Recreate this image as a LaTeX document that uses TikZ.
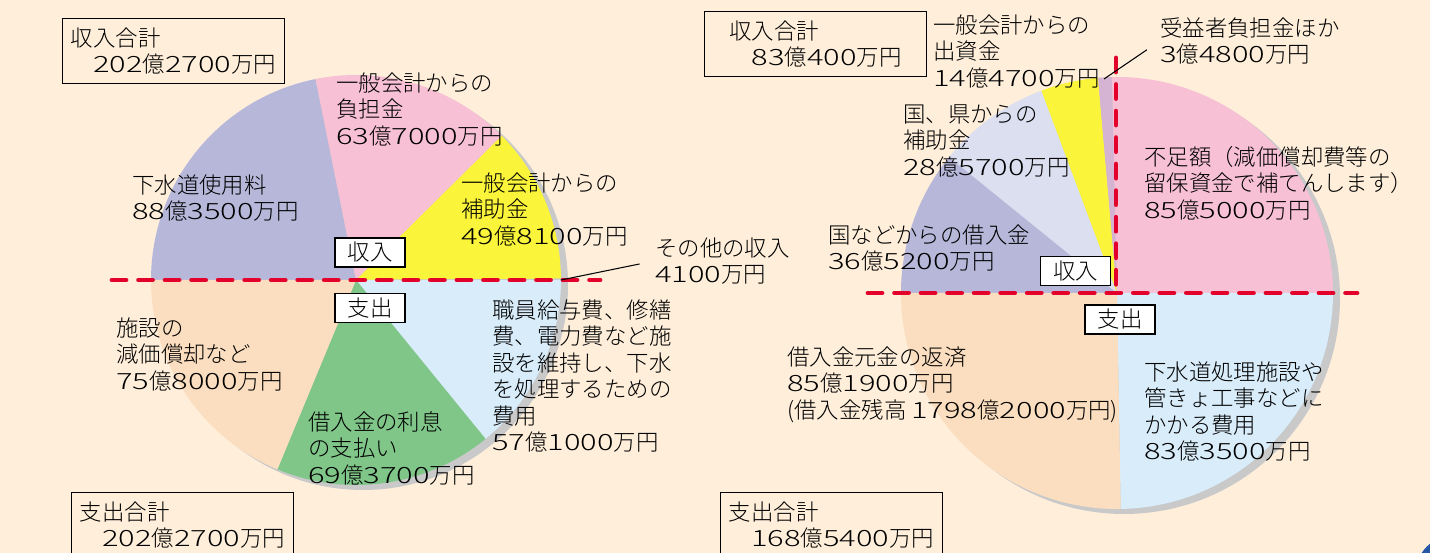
\documentclass[tikz,border=0pt]{standalone}
\usepackage{fontspec}
\IfFontExistsTF{Noto Sans CJK JP Light}{%
	\setmainfont{Noto Sans CJK JP Light}
	\newfontfamily\widedigits{Noto Sans CJK JP Light}[FakeStretch=1.38]
}{%
	\setmainfont{Noto Sans CJK JP}
	\newfontfamily\widedigits{Noto Sans CJK JP}[FakeStretch=1.3]
}
\newcommand{\dg}[1]{{\widedigits #1}}
\usepackage{tikz}
\usetikzlibrary{calc}

\definecolor{bgpeach}{HTML}{FEEEDA}
\definecolor{sewerpurple}{HTML}{B7B7DA}
\definecolor{burdenpink}{HTML}{F7C0D4}
\definecolor{subsidyyellow}{HTML}{FAF43B}
\definecolor{othergray}{HTML}{C8C8D0}
\definecolor{costblue}{HTML}{D8ECFA}
\definecolor{interestgreen}{HTML}{80C689}
\definecolor{deprorange}{HTML}{FBDEBF}
\definecolor{loanlavender}{HTML}{DCDFF0}
\definecolor{benefmauve}{HTML}{D5B4D3}
\definecolor{shadowgray}{HTML}{C9C9C9}
\definecolor{cutred}{HTML}{E3002B}
\definecolor{cornerblue}{HTML}{2457A5}

\tikzset{
	lbl/.style={anchor=north west, inner sep=0pt, align=left, font=\fontsize{12.75}{15.1}\selectfont},
	sumbox/.style={draw, line width=0.7pt, anchor=north west, minimum width=4.44cm, minimum height=1.3cm, inner sep=0.15cm, align=left, font=\fontsize{12.75}{15.1}\selectfont},
	tag/.style={draw, fill=white, line width=0.8pt, minimum width=1.4cm, minimum height=0.58cm, inner sep=0pt, font=\fontsize{12.75}{15.1}\selectfont},
	cutline/.style={cutred, line width=2.7pt, line cap=round, dash pattern=on 8pt off 7.1pt},
	leader/.style={line width=0.6pt, shorten >=9pt}
}

\begin{document}
\begin{tikzpicture}[x=0.02cm, y=0.02cm]
				\useasboundingbox (0,0) rectangle (1430,553);
				\fill[bgpeach] (0,0) rectangle (1430,553);
				\fill[cornerblue] (1455,-22) circle[radius=40];
				
				% left pie
				\coordinate (Lc) at (356,273);
				\fill[shadowgray] ($(Lc)+(7,-5)$) circle[radius=205];
				\foreach \a/\b/\c in {180/101.38/sewerpurple, 101.38/44.69/burdenpink, 44.69/0.36/subsidyyellow, 0.36/0/othergray, 0/-50.81/costblue, -50.81/-112.54/interestgreen, -112.54/-180/deprorange}
					\fill[\c] (Lc) -- ++(\a:205) arc[start angle=\a, end angle=\b, radius=205] -- cycle;
				\draw[cutline] (112,273) -- (600,273);
				
				% right pie
				\coordinate (Rc) at (1117,260);
				\fill[shadowgray] ($(Rc)+(7,-5)$) circle[radius=216];
				\foreach \a/\b/\c in {180/141/sewerpurple, 141/110.49/loanlavender, 110.49/95.04/subsidyyellow, 95.04/91.32/benefmauve, 91.32/0/burdenpink, 0/-89.02/costblue, -89.02/-180/deprorange}
					\fill[\c] (Rc) -- ++(\a:216) arc[start angle=\a, end angle=\b, radius=216] -- cycle;
				\draw[cutline] (868,260) -- (1357,260);
				\draw[cutline] (1116,495) -- (1116,260);
				
				\node[tag] (Lin) at (370,300.5) {収入};
				\node[tag] (Lout) at (370,245) {支出};
				\node[tag] (Rin) at (1075.5,282) {収入};
				\node[tag] (Rout) at (1120,233.5) {支出};
				
				\node[sumbox] (Linsum) at (62,535) {収入合計\\\hspace*{1em}\dg{202}億\dg{2700}万円};
				\node[sumbox] (Loutsum) at (71,61) {支出合計\\\hspace*{1em}\dg{202}億\dg{2700}万円};
				\node[sumbox] (Rinsum) at (704,542) {収入合計\\\hspace*{1em}\dg{83}億\dg{400}万円};
				\node[sumbox] (Routsum) at (720,61) {支出合計\\\hspace*{1em}\dg{168}億\dg{5400}万円};
				
				\node[lbl] (Lburden) at (336,481) {一般会計からの\\負担金\\\dg{63}億\dg{7000}万円};
				\node[lbl] (Lfee) at (132,379) {下水道使用料\\\dg{88}億\dg{3500}万円};
				\node[lbl] (Lsubsidy) at (461,381) {一般会計からの\\補助金\\\dg{49}億\dg{8100}万円};
				\node[lbl] (Lother) at (655,316) {その他の収入\\\dg{4100}万円};
				\node[lbl] (Ldepr) at (116,236) {施設の\\減価償却など\\\dg{75}億\dg{8000}万円};
				\node[lbl] (Linterest) at (308,142) {借入金の利息\\の支払い\\\dg{69}億\dg{3700}万円};
				\node[lbl] (Lcost) at (492,254) {職員給与費、修繕\\費、電力費など施\\設を維持し、下水\\を処理するための\\費用\\\dg{57}億\dg{1000}万円};
				
				\node[lbl] (Rcapital) at (933,539) {一般会計からの\\出資金\\\dg{14}億\dg{4700}万円};
				\node[lbl] (Rbenef) at (1160,536) {受益者負担金ほか\\\dg{3}億\dg{4800}万円};
				\node[lbl] (Rsubsidy) at (903,449) {国、県からの\\補助金\\\dg{28}億\dg{5700}万円};
				\node[lbl] (Rshort) at (1144,407) {不足額（減価償却費等の\\留保資金で補てんします）\\\dg{85}億\dg{5000}万円};
				\node[lbl] (Rloan) at (828,329) {国などからの借入金\\\dg{36}億\dg{5200}万円};
				\node[lbl] (Rrepay) at (787,207) {借入金元金の返済\\\dg{85}億\dg{1900}万円\\(借入金残高 \dg{1798}億\dg{2000}万円)};
				\node[lbl] (Rworks) at (1144,192) {下水道処理施設や\\管きょ工事などに\\かかる費用\\\dg{83}億\dg{3500}万円};
				
				\coordinate (LotherP) at (561,273);
				\coordinate (RbenefP) at (1104,474);
				\draw[leader] (LotherP) -- (Lother.west);
				\draw[leader] (RbenefP) -- (Rbenef.west);
			\end{tikzpicture}
\end{document}
